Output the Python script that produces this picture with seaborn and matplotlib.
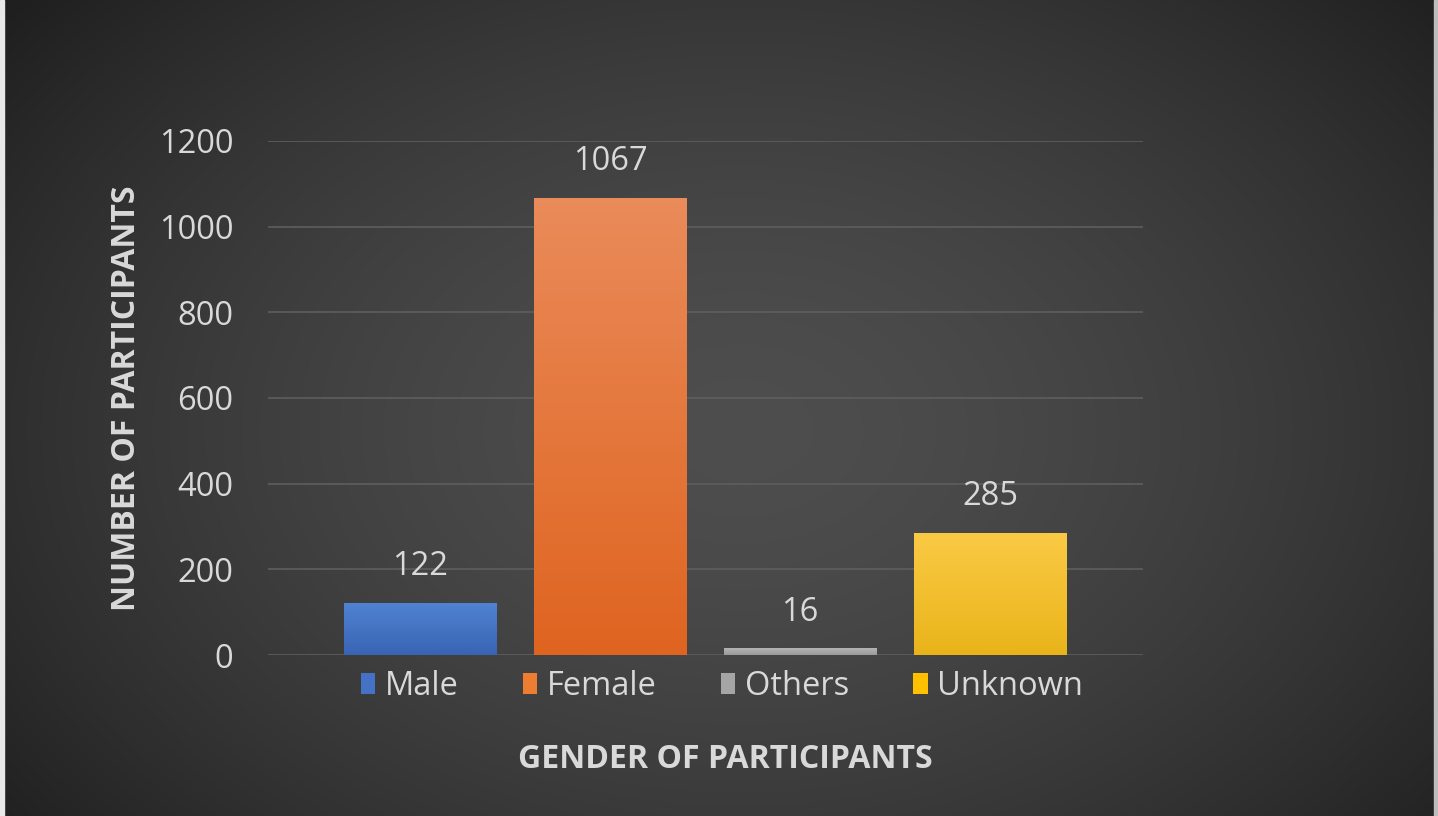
import numpy as np
import matplotlib
matplotlib.use("Agg")
import matplotlib.pyplot as plt
import seaborn as sns
from matplotlib.patches import Patch

# values
categories = ["Male", "Female", "Others", "Unknown"]
counts = [122, 1067, 16, 285]
yticks = [0, 200, 400, 600, 800, 1000, 1200]

bar_colors = ["#4472c4", "#ed7d31", "#a5a5a5", "#ffc000"]
top_colors = ["#5083d3", "#ea8b5a", "#b4b4b4", "#fbca45"]
bottom_colors = ["#3964b3", "#df6420", "#9a9a9a", "#e9b41a"]

sns.set_theme(style="dark")
plt.rcParams["font.family"] = ["Open Sans", "DejaVu Sans"]
txt = "#d9d9d9"
fs = 23.5

fig = plt.figure(figsize=(14.38, 8.16), dpi=100)

# dark radial background
bg = fig.add_axes([0, 0, 1, 1], zorder=-10)
h, w = 816, 1438
yy, xx = np.mgrid[0:h, 0:w]
r = np.sqrt(((xx - 740) / 800.0) ** 2 + ((yy - 430) / 560.0) ** 2)
val = np.clip(0.305 - 0.14 * r ** 1.6, 0.12, 0.32)
bg.imshow(np.dstack([val, val, val]), aspect="auto", extent=[0, 1, 0, 1])
bg.axvspan(0, 0.003, color="#e8e8e8")
bg.axvspan(0.9975, 1, color="#bdbdbd")
bg.set_axis_off()

ax = fig.add_axes([0.1864, 0.1973, 0.6085, 0.630])
ax.set_facecolor("none")

sns.barplot(x=categories, y=counts, hue=categories, palette=bar_colors,
            width=0.8, legend=False, ax=ax, zorder=3)

ax.set_xlim(-0.8, 3.805)
ax.set_ylim(0, 1200)
ax.set_yticks(yticks)
ax.grid(axis="y", color="#5e5e5e", lw=1.2, zorder=0)
ax.grid(axis="x", visible=False)
for s in ax.spines.values():
    s.set_visible(False)
ax.tick_params(axis="y", length=0, pad=25, labelsize=fs, labelcolor=txt)
ax.set_xticks([])

# vertical gradient on each bar
for i, p in enumerate(ax.patches):
    x0, y0 = p.get_x(), p.get_y()
    bw, bh = p.get_width(), p.get_height()
    c1 = np.array(matplotlib.colors.to_rgb(top_colors[i]))
    c2 = np.array(matplotlib.colors.to_rgb(bottom_colors[i]))
    t = np.linspace(0, 1, 100)[:, None]
    grad = (c1 * (1 - t) + c2 * t)[:, None, :]
    im = ax.imshow(grad, aspect="auto", extent=[x0, x0 + bw, y0, y0 + bh],
                   zorder=4, origin="upper")
    im.set_clip_path(p)
    p.set_facecolor("none")
    p.set_edgecolor("none")

for i, v in enumerate(counts):
    ax.annotate(str(v), (i, v), xytext=(0, 14), textcoords="offset points",
                ha="center", va="bottom", fontsize=fs, color=txt)

ax.set_ylabel("NUMBER OF PARTICIPANTS", fontsize=23, fontweight="bold", color=txt)
ax.yaxis.set_label_coords(-0.143, 0.5)
ax.set_xlabel("GENDER OF PARTICIPANTS", fontsize=23, fontweight="bold", color=txt)
ax.xaxis.set_label_coords(0.523, -0.204)
ax.xaxis.label.set_va("center")

handles = [Patch(facecolor=c, edgecolor="none") for c in bar_colors]
leg = fig.legend(handles, categories, loc="center", bbox_to_anchor=(0.502, 0.159),
                 ncol=4, frameon=False, fontsize=fs, labelcolor=txt,
                 handlelength=0.45, handleheight=0.6, handletextpad=0.3,
                 columnspacing=1.95)

fig.savefig("out.png", dpi=100)
